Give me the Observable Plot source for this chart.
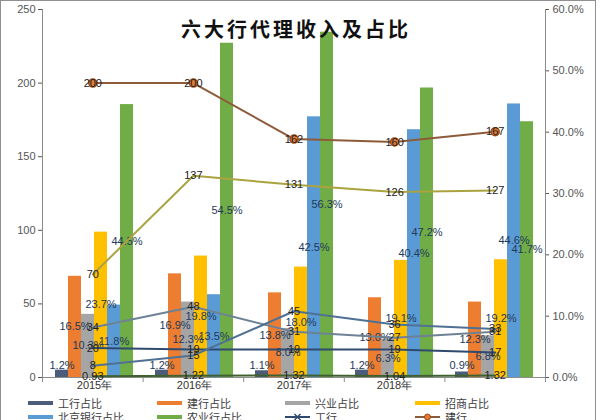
<!DOCTYPE html>
<html><head><meta charset="utf-8">
<script src="https://cdn.jsdelivr.net/npm/d3@7"></script>
<script src="https://cdn.jsdelivr.net/npm/@observablehq/plot@0.6"></script>
<style>
body{margin:0;background:#fff;}
#wrap{position:relative;width:600px;height:420px;overflow:hidden;font-family:"Liberation Sans",Arial,sans-serif;}
.layer{position:absolute;left:0;top:0;}
#frame{position:absolute;left:0;top:0;width:596px;height:440px;border:1px solid #8f8f8f;box-sizing:border-box;pointer-events:none;}
#title{position:absolute;left:0;width:592px;top:14px;text-align:center;font-family:"Noto Sans CJK SC",sans-serif;font-weight:700;font-size:20px;letter-spacing:3px;color:#111;}
#legend{position:absolute;top:396px;left:0;width:600px;height:40px;font-family:"Noto Sans CJK SC",sans-serif;font-size:11px;color:#404040;}
.item{position:absolute;display:flex;align-items:center;height:14px;}
.sw{width:25px;height:4px;margin-right:5px;}
</style>
</head><body>
<div id="wrap">
  <div id="barsLayer" class="layer"></div>
  <div id="linesLayer" class="layer"></div>
  <div id="title">六大行代理收入及占比</div>
  <div id="legend"></div>
  <div id="frame"></div>
</div>
<script>
// ---- data ----
const years = ["2015年","2016年","2017年","2018年","2019年"];
const xTickLabels = ["2015年","2016年","2017年","2018年",""];

const barSeries = ["工行占比","建行占比","兴业占比","招商占比","北京银行占比","农业行占比"];
const icbcShare  = [1.2, 1.2, 1.1, 1.2, 0.9];
const ccbShare   = [16.5, 16.9, 13.8, 13.0, 12.3];
const cibShare   = [10.3, 12.3, 8.0, 6.3, 6.8];
const cmbShare   = [23.7, 19.8, 18.0, 19.1, 19.2];
const bobShare   = [11.8, 13.5, 42.5, 40.4, 44.6];
const abcShare   = [44.5, 54.5, 56.3, 47.2, 41.7];
const barColors  = ["#4b5d7a","#ed7d31","#a5a5a5","#ffc000","#5b9bd5","#70ad47"];

const lineSeries = ["工行","建行","兴业","招商","北京银行","农业行"];
const icbcIncome = [20, 19, 19, 19, 17];
const ccbIncome  = [200, 200, 162, 160, 167];
const cibIncome  = [34, 48, 31, 27, 31];
const cmbIncome  = [70, 137, 131, 126, 127];
const bobIncome  = [8, 15, 45, 36, 33];
const abcIncome  = [0.93, 1.22, 1.32, 1.04, 1.32];
const lineColors = ["#2f4a6e","#8e5b3a","#6e8296","#aaa340","#4f7193","#3f6130"];

const leftTicks  = [0, 50, 100, 150, 200, 250];
const rightTicks = [0, 10, 20, 30, 40, 50, 60];

// ---- tables ----
const barValues = [icbcShare, ccbShare, cibShare, cmbShare, bobShare, abcShare];
const barData = years.flatMap((yr, i) => barSeries.map((s, j) => ({year: yr, series: s, value: barValues[j][i]})));
const lineValues = [icbcIncome, ccbIncome, cibIncome, cmbIncome, bobIncome, abcIncome];
const lineData = lineSeries.flatMap((s, j) => years.map((yr, i) => ({series: s, pos: i + 0.5, value: lineValues[j][i]})));

const W = 600, H = 395, ML = 42, MR = 55, MT = 9, MB = 18;

const bars = Plot.plot({
  width: W, height: H, marginLeft: ML, marginRight: MR, marginTop: MT, marginBottom: MB,
  style: {background: "transparent", fontFamily: "Liberation Sans, Arial, sans-serif"},
  fx: {domain: years, padding: 0, label: null},
  x: {domain: barSeries, paddingInner: 0, paddingOuter: 0.7, axis: null},
  y: {domain: [0, 60], axis: null},
  color: {domain: barSeries, range: barColors},
  marks: [
    Plot.barY(barData, {fx: "year", x: "series", y: "value", fill: "series", inset: 0}),
    Plot.text(barData, {fx: "year", x: "series", y: d => Math.max(d.value / 2, 1.9), text: d => d.value.toFixed(1) + "%", fill: "#22395a", fontSize: 11}),
    Plot.axisFx({anchor: "bottom", tickSize: 0, tickPadding: 4, fontSize: 11, color: "#333", tickFormat: d => xTickLabels[years.indexOf(d)], label: null}),
    Plot.axisY({anchor: "right", ticks: rightTicks, tickFormat: d => d.toFixed(1) + "%", tickSize: 4, tickPadding: 4, fontSize: 11, color: "#555", label: null})
  ]
});
document.getElementById("barsLayer").appendChild(bars);

const lines = Plot.plot({
  width: W, height: H, marginLeft: ML, marginRight: MR, marginTop: MT, marginBottom: MB,
  style: {background: "transparent", fontFamily: "Liberation Sans, Arial, sans-serif"},
  x: {domain: [0, years.length], axis: null},
  y: {domain: [0, 250], axis: null},
  color: {domain: lineSeries, range: lineColors},
  marks: [
    Plot.ruleX([0, years.length], {stroke: "#8c8c8c"}),
    Plot.ruleY([0], {stroke: "#8c8c8c"}),
    Plot.axisX({ticks: d3.range(years.length + 1), tickFormat: () => "", tickSize: 5, color: "#8c8c8c", label: null}),
    Plot.axisY({anchor: "left", ticks: leftTicks, tickSize: 4, tickPadding: 3, fontSize: 11, color: "#555", label: null}),
    Plot.line(lineData, {x: "pos", y: "value", stroke: "series", strokeWidth: 2}),
    Plot.dot(lineData.filter(d => d.series === "建行"), {x: "pos", y: "value", r: 4, fill: "#e07b39", stroke: "#9e480e"}),
    Plot.text(lineData, {x: "pos", y: "value", text: d => String(d.value), fill: "#222", fontSize: 11})
  ]
});
document.getElementById("linesLayer").appendChild(lines);

// ---- legend ----
const legendItems = [
  {label: barSeries[0], color: barColors[0], type: "bar"},
  {label: barSeries[1], color: barColors[1], type: "bar"},
  {label: barSeries[2], color: barColors[2], type: "bar"},
  {label: barSeries[3], color: barColors[3], type: "bar"},
  {label: barSeries[4], color: barColors[4], type: "bar"},
  {label: barSeries[5], color: barColors[5], type: "bar"},
  {label: lineSeries[0], color: lineColors[0], type: "line", marker: "x"},
  {label: lineSeries[1], color: lineColors[1], type: "line", marker: "o"},
  {label: lineSeries[2], color: lineColors[2], type: "line"},
  {label: lineSeries[3], color: lineColors[3], type: "line"},
  {label: lineSeries[4], color: lineColors[4], type: "line"},
  {label: lineSeries[5], color: lineColors[5], type: "line"}
];
const colX = [28, 157, 285, 415];
const leg = document.getElementById("legend");
legendItems.forEach((it, k) => {
  const div = document.createElement("div");
  div.className = "item";
  div.style.left = colX[k % 4] + "px";
  div.style.top = (Math.floor(k / 4) * 14) + "px";
  let sw;
  if (it.type === "bar") {
    sw = `<div class="sw" style="background:${it.color}"></div>`;
  } else {
    let mk = "";
    if (it.marker === "o") mk = `<circle cx="12.5" cy="5" r="3" fill="#e07b39" stroke="#9e480e"/>`;
    if (it.marker === "x") mk = `<path d="M9.5 2 L15.5 8 M15.5 2 L9.5 8" stroke="${it.color}" stroke-width="1.5"/>`;
    sw = `<svg width="25" height="10" style="margin-right:5px"><line x1="0" y1="5" x2="25" y2="5" stroke="${it.color}" stroke-width="2"/>${mk}</svg>`;
  }
  div.innerHTML = sw + `<span>${it.label}</span>`;
  leg.appendChild(div);
});
</script>
</body></html>
